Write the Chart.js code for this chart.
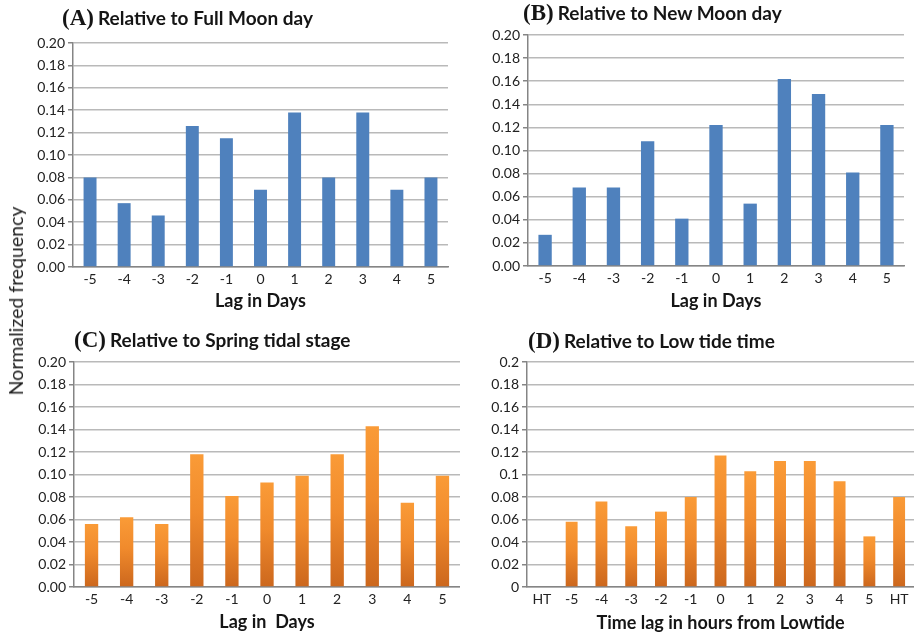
<!DOCTYPE html>
<html>
<head>
<meta charset="utf-8">
<script src="https://cdn.jsdelivr.net/npm/chart.js@4/dist/chart.umd.min.js"></script>
<style>
  html, body { margin: 0; padding: 0; background: #fff; }
  #wrap { position: relative; width: 914px; height: 638px; overflow: hidden; background: #fff; }
  canvas { position: absolute; }
  .ttl { position: absolute; white-space: nowrap; color: #151515; display: flex; align-items: baseline; line-height: 26px; }
  .ttl .tag { font-family: "Liberation Serif", "DejaVu Serif", serif; font-weight: bold; font-size: 23px; }
  .ttl .txt { font-family: Lato, "Open Sans", sans-serif; font-weight: bold; font-size: 19px; margin-left: 4px; }
  #ylab { position: absolute; left: 16px; top: 301px; transform: translate(-50%, -50%) rotate(-90deg);
          font-family: Lato, "Open Sans", sans-serif; font-size: 19.5px; color: #222; white-space: nowrap; line-height: 22px; }
</style>
</head>
<body>
<div id="wrap">
  <canvas id="cA" width="460" height="318" style="left:0;top:0"></canvas>
  <canvas id="cB" width="454" height="318" style="left:460px;top:0"></canvas>
  <canvas id="cC" width="460" height="320" style="left:0;top:318px"></canvas>
  <canvas id="cD" width="454" height="320" style="left:460px;top:318px"></canvas>

  <div class="ttl" style="left:62px;top:5px"><span class="tag">(A)</span><span class="txt">Relative to Full Moon day</span></div>
  <div class="ttl" style="left:523px;top:0px"><span class="tag">(B)</span><span class="txt">Relative to New Moon day</span></div>
  <div class="ttl" style="left:74px;top:327px"><span class="tag">(C)</span><span class="txt">Relative to Spring tidal stage</span></div>
  <div class="ttl" style="left:528px;top:328px"><span class="tag">(D)</span><span class="txt">Relative to Low tide time</span></div>
  <div id="ylab">Normalized frequency</div>
</div>
<script>
// Categories
const dayLags = ['-5', '-4', '-3', '-2', '-1', '0', '1', '2', '3', '4', '5'];
const hourLags = ['HT', '-5', '-4', '-3', '-2', '-1', '0', '1', '2', '3', '4', '5', 'HT'];

// Normalized frequencies per panel
const fullMoon   = [0.080, 0.057, 0.046, 0.126, 0.115, 0.069, 0.138, 0.080, 0.138, 0.069, 0.080];
const newMoon    = [0.027, 0.068, 0.068, 0.108, 0.041, 0.122, 0.054, 0.162, 0.149, 0.081, 0.122];
const springTide = [0.056, 0.062, 0.056, 0.118, 0.081, 0.093, 0.099, 0.118, 0.143, 0.075, 0.099];
const lowTide    = [null, 0.058, 0.076, 0.054, 0.067, 0.080, 0.117, 0.103, 0.112, 0.112, 0.094, 0.045, 0.080];

// Y tick labels
const yTicksFixed = ['0.00', '0.02', '0.04', '0.06', '0.08', '0.10', '0.12', '0.14', '0.16', '0.18', '0.20'];
const yTicksGeneral = ['0', '0.02', '0.04', '0.06', '0.08', '0.1', '0.12', '0.14', '0.16', '0.18', '0.2'];

const AXIS = '#858585';
const GRID = '#b9b9b9';
const BLUE = '#4F81BD';
const ORANGE_TOP = '#FA9B37';
const ORANGE_BOTTOM = '#CC671D';
const FONT = 'Lato, "Open Sans", sans-serif';

// Each orange bar shades from light at its top to darker at the baseline
function orangeFill(ctx) {
  const chart = ctx.chart;
  if (!chart.chartArea || ctx.type !== 'data' || ctx.raw == null) return ORANGE_TOP;
  const y = chart.scales.y;
  const top = y.getPixelForValue(ctx.raw);
  const base = y.getPixelForValue(0);
  const g = chart.ctx.createLinearGradient(0, top, 0, base);
  g.addColorStop(0, ORANGE_TOP);
  g.addColorStop(0.45, '#F08A2C');
  g.addColorStop(1, ORANGE_BOTTOM);
  return g;
}

function makeChart(id, labels, values, fill, o) {
  return new Chart(document.getElementById(id), {
    type: 'bar',
    data: {
      labels: labels,
      datasets: [{ data: values, backgroundColor: fill, borderWidth: 0,
                   barPercentage: o.barPct, categoryPercentage: 1 }]
    },
    options: {
      responsive: false,
      maintainAspectRatio: false,
      animation: false,
      layout: { padding: { top: o.padTop, right: o.padRight, left: 0, bottom: 0 } },
      plugins: { legend: { display: false }, tooltip: { enabled: false } },
      scales: {
        x: {
          grid: { display: false, drawTicks: false },
          border: { color: AXIS, width: 1.5 },
          ticks: { font: { family: FONT, size: 14 }, color: '#222', padding: 4, autoSkip: false, maxRotation: 0 },
          title: { display: true, text: o.xTitle, color: '#151515',
                   font: { family: FONT, size: 18, weight: 'bold' }, padding: { top: 0, bottom: o.xTitlePad } },
          afterFit(s) { s.height = o.xHeight; }
        },
        y: {
          min: 0, max: 0.2,
          ticks: { stepSize: 0.02, font: { family: FONT, size: 14 }, color: '#222', padding: 3,
                   callback: (v, i) => o.yTicks[i] },
          grid: { color: GRID, lineWidth: 1.5, tickColor: AXIS, tickLength: 5, drawTicks: true },
          border: { color: AXIS, width: 1.5 },
          afterFit(s) { s.width = o.yWidth; }
        }
      }
    }
  });
}

makeChart('cA', dayLags, fullMoon, BLUE,
  { padTop: 43, padRight: 12, yWidth: 73, xHeight: 51, xTitle: 'Lag in Days', xTitlePad: 6, yTicks: yTicksFixed, barPct: 0.38 });
makeChart('cB', dayLags, newMoon, BLUE,
  { padTop: 35, padRight: 10, yWidth: 68, xHeight: 52, xTitle: 'Lag in Days', xTitlePad: 6, yTicks: yTicksFixed, barPct: 0.39 });
makeChart('cC', dayLags, springTide, orangeFill,
  { padTop: 44, padRight: 0, yWidth: 74, xHeight: 51, xTitle: 'Lag in  Days', xTitlePad: 5, yTicks: yTicksFixed, barPct: 0.38 });
makeChart('cD', hourLags, lowTide, orangeFill,
  { padTop: 44, padRight: 0, yWidth: 67, xHeight: 51, xTitle: 'Time lag in hours from Lowtide', xTitlePad: 4, yTicks: yTicksGeneral, barPct: 0.40 });
</script>
</body>
</html>
